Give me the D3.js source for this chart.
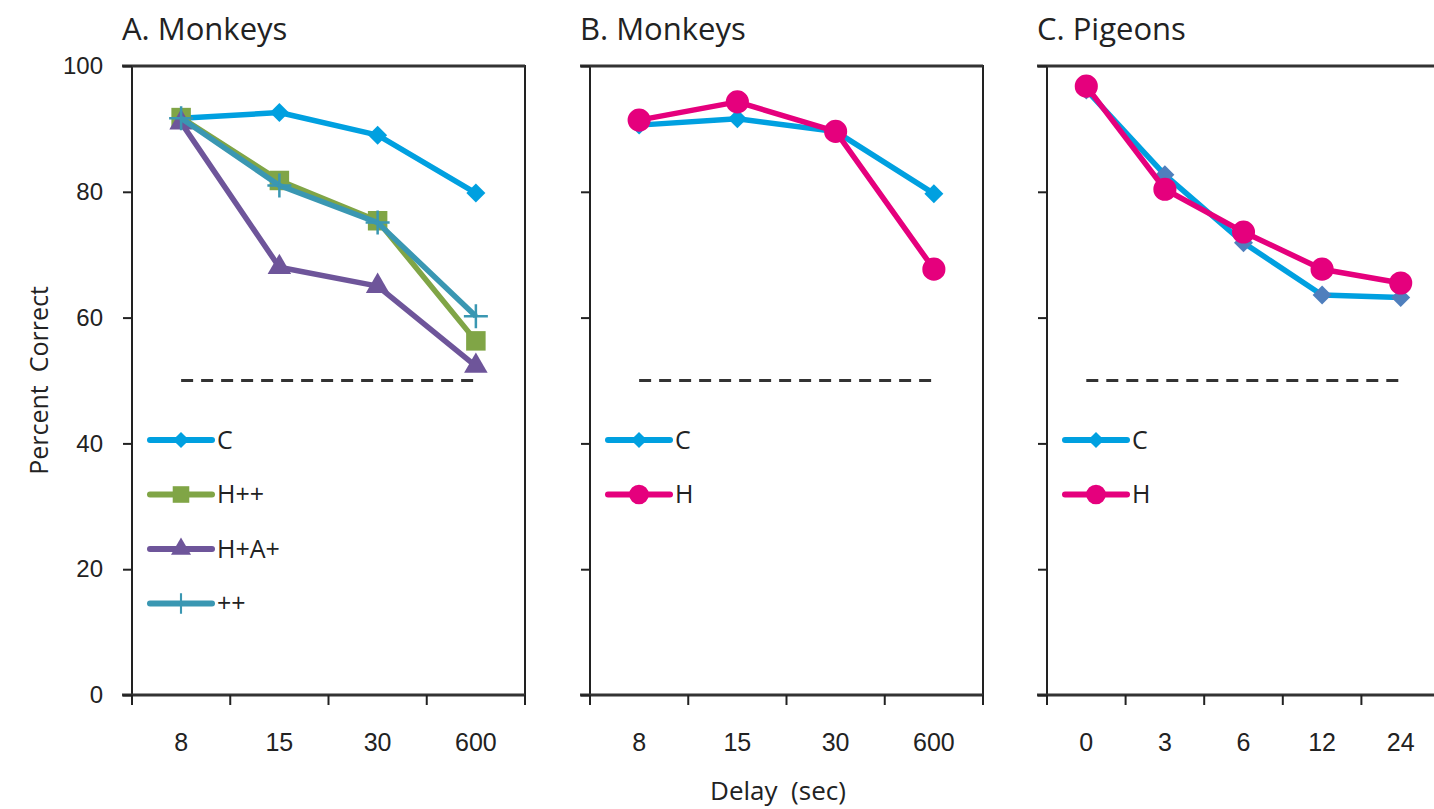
<!DOCTYPE html>
<html>
<head>
<meta charset="utf-8">
<script src="https://cdn.jsdelivr.net/npm/d3@7"></script>
<style>
  body { margin: 0; background: #fff; }
  svg { display: block; font-family: "Open Sans", "Noto Sans", sans-serif; }
  .frame { fill: none; stroke: #222; stroke-width: 2; }
  .axis path { display: none; }
  .axis line { stroke: #222; stroke-width: 2; }
  .axis text { fill: #222; }
  .chance { stroke: #333; stroke-width: 3; stroke-dasharray: 12 8; }
  .series { fill: none; stroke-width: 5.5; stroke-linejoin: round; }
  .legendLine { stroke-width: 6; stroke-linecap: round; }
</style>
</head>
<body>
<script>
(function () {

    //data
    var yTicks = [0, 20, 40, 60, 80, 100];
    var monkeyDelays = ["8", "15", "30", "600"];
    var pigeonDelays = ["0", "3", "6", "12", "24"];
    var chanceLevel = 50;

    //A. Monkeys
    var aC = [91.7, 92.6, 89.0, 79.8];
    var aHpp = [91.8, 81.8, 75.4, 56.3];
    var aHApA = [91.0, 68.0, 65.0, 52.3];
    var aPP = [91.7, 81.0, 75.1, 60.2];

    //B. Monkeys
    var bC = [90.6, 91.6, 89.6, 79.7];
    var bH = [91.4, 94.3, 89.6, 67.7];

    //C. Pigeons
    var cC = [96.2, 82.7, 71.9, 63.6, 63.2];
    var cH = [96.8, 80.4, 73.6, 67.7, 65.5];

    var panelTitles = ["A. Monkeys", "B. Monkeys", "C. Pigeons"];
    var yTitle = "Percent  Correct";
    var xTitle = "Delay  (sec)";

    //series styling
    var styles = {
        "C": { color: "#00a0e0", marker: "#00a0e0", shape: "diamond" },
        "Cpig": { color: "#00a0e0", marker: "#4f7fbd", shape: "diamond" },
        "H++": { color: "#80a546", marker: "#80a546", shape: "square" },
        "H+A+": { color: "#6e559a", marker: "#6e559a", shape: "triangle" },
        "++": { color: "#3a97b2", marker: "#3a97b2", shape: "plus" },
        "H": { color: "#e5007d", marker: "#e5007d", shape: "circle" }
    };

    var panels = [
        { title: panelTitles[0], cats: monkeyDelays, labels: true,
          series: [
            { name: "C", style: "C", values: aC },
            { name: "H++", style: "H++", values: aHpp },
            { name: "H+A+", style: "H+A+", values: aHApA },
            { name: "++", style: "++", values: aPP }
          ] },
        { title: panelTitles[1], cats: monkeyDelays, labels: false,
          series: [
            { name: "C", style: "C", values: bC },
            { name: "H", style: "H", values: bH }
          ] },
        { title: panelTitles[2], cats: pigeonDelays, labels: false,
          series: [
            { name: "C", style: "Cpig", legendStyle: "C", values: cC },
            { name: "H", style: "H", values: cH }
          ] }
    ];

    //frame dimensions
    var width = 1434, height = 809;
    var panelLeft = [132, 590, 1047],
        panelWidth = 393,
        top = 66,
        innerHeight = 629;

    var svg = d3.select("body").append("svg")
        .attr("width", width)
        .attr("height", height);

    var y = d3.scaleLinear().domain([0, 100]).range([top + innerHeight, top]);

    function markerPath(shape) {
        if (shape == "diamond") return d3.symbol().type(d3.symbolSquare).size(180)();
        if (shape == "square") return d3.symbol().type(d3.symbolSquare).size(380)();
        if (shape == "triangle") return d3.symbol().type(d3.symbolTriangle).size(240)();
        if (shape == "circle") return d3.symbol().type(d3.symbolCircle).size(420)();
        return "M-12,0H12M0,-12V12";
    }

    function drawMarker(g, shape, color, cx, cy, scale) {
        var s = scale || 1;
        var p = g.append("path")
            .attr("d", markerPath(shape))
            .attr("transform", "translate(" + cx + "," + cy + ")" +
                (shape == "diamond" ? " rotate(45)" : "") + " scale(" + s + ")");
        if (shape == "plus") {
            p.attr("fill", "none").attr("stroke", color).attr("stroke-width", 2.5);
        } else {
            p.attr("fill", color);
        }
    }

    panels.forEach(function (panel, pi) {
        var left = panelLeft[pi];
        var x = d3.scaleBand()
            .domain(panel.cats)
            .range([left, left + panelWidth]);
        var g = svg.append("g").attr("class", "panel");

        //frame
        g.append("rect")
            .attr("class", "frame")
            .attr("x", left)
            .attr("y", top)
            .attr("width", panelWidth)
            .attr("height", innerHeight);

        //heavier top and bottom rules
        g.append("line")
            .attr("x1", left - 10).attr("x2", left + panelWidth)
            .attr("y1", y(100)).attr("y2", y(100))
            .attr("stroke", "#333").attr("stroke-width", 3);
        g.append("line")
            .attr("x1", left - 10).attr("x2", left + panelWidth)
            .attr("y1", y(0)).attr("y2", y(0))
            .attr("stroke", "#333").attr("stroke-width", 3);

        //y axis
        var yAxis = d3.axisLeft(y).tickValues(yTicks).tickSize(9).tickPadding(20);
        if (!panel.labels) yAxis.tickFormat("");
        g.append("g")
            .attr("class", "axis")
            .attr("transform", "translate(" + left + ",0)")
            .call(yAxis)
            .selectAll("text")
            .style("font-size", "24px");

        //x axis labels at band centers
        var xAxis = d3.axisBottom(x).tickSize(0).tickPadding(38);
        g.append("g")
            .attr("class", "axis")
            .attr("transform", "translate(0," + y(0) + ")")
            .call(xAxis)
            .selectAll("text")
            .style("font-size", "25px");

        //x ticks at band boundaries
        var bounds = panel.cats.map(function (c) { return x(c); }).concat([x.range()[1]]);
        g.selectAll(".xtick")
            .data(bounds)
            .enter()
            .append("line")
            .attr("x1", function (d) { return d; })
            .attr("x2", function (d) { return d; })
            .attr("y1", y(0))
            .attr("y2", y(0) + 10)
            .attr("stroke", "#222")
            .attr("stroke-width", 2);

        //chance line
        var first = panel.cats[0], last = panel.cats[panel.cats.length - 1];
        g.append("line")
            .attr("class", "chance")
            .attr("x1", x(first) + x.bandwidth() / 2)
            .attr("x2", x(last) + x.bandwidth() / 2)
            .attr("y1", y(chanceLevel))
            .attr("y2", y(chanceLevel));

        //series
        var line = d3.line()
            .x(function (d, i) { return x(panel.cats[i]) + x.bandwidth() / 2; })
            .y(function (d) { return y(d); });

        panel.series.forEach(function (s) {
            var st = styles[s.style];
            g.append("path")
                .datum(s.values)
                .attr("class", "series")
                .attr("stroke", st.color)
                .attr("d", line);
            s.values.forEach(function (v, i) {
                drawMarker(g, st.shape, st.marker, x(panel.cats[i]) + x.bandwidth() / 2, y(v));
            });
        });

        //legend
        var lx = left + 18, ly0 = 440, lstep = 54.5;
        panel.series.forEach(function (s, i) {
            var st = styles[s.legendStyle || s.style];
            var ly = ly0 + i * lstep;
            g.append("line")
                .attr("class", "legendLine")
                .attr("x1", lx).attr("x2", lx + 62)
                .attr("y1", ly).attr("y2", ly)
                .attr("stroke", st.color);
            drawMarker(g, st.shape, st.marker, lx + 31, ly, 0.85);
            g.append("text")
                .attr("x", lx + 67)
                .attr("y", ly)
                .attr("dy", "0.35em")
                .style("font-size", "25px")
                .attr("fill", "#222")
                .text(s.name);
        });

        //panel title
        g.append("text")
            .attr("x", left - 10)
            .attr("y", 40)
            .style("font-size", "31px")
            .attr("fill", "#222")
            .text(panel.title);
    });

    //axis titles
    svg.append("text")
        .attr("transform", "translate(48," + y(50) + ") rotate(-90)")
        .attr("text-anchor", "middle")
        .style("font-size", "25px")
        .style("white-space", "pre")
        .attr("fill", "#222")
        .text(yTitle);

    svg.append("text")
        .attr("x", 778)
        .attr("y", 800)
        .attr("text-anchor", "middle")
        .style("font-size", "26px")
        .style("white-space", "pre")
        .attr("fill", "#222")
        .text(xTitle);

})();
</script>
</body>
</html>
